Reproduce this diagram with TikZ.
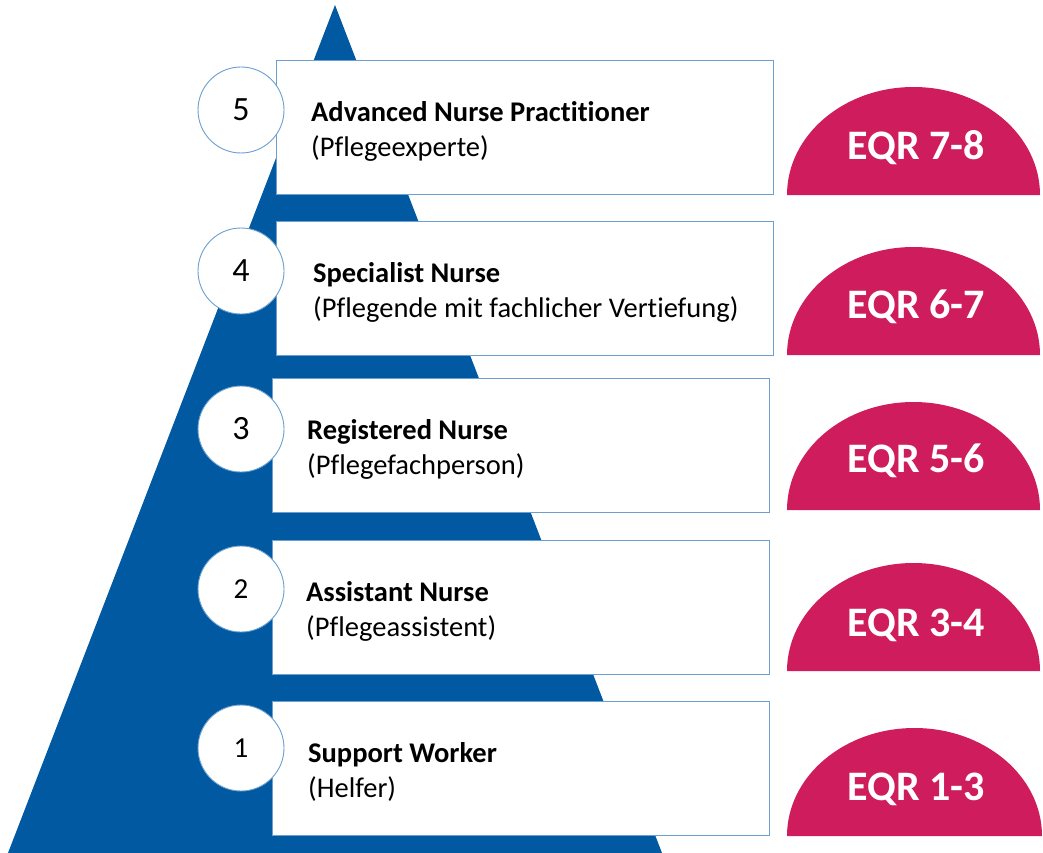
\documentclass[tikz,border=0pt]{standalone}
\usepackage{fontspec}
\setmainfont[Ligatures={NoCommon}]{Carlito}
\definecolor{pyblue}{HTML}{0059A1}
\definecolor{eqrmag}{HTML}{CF1C5C}
\definecolor{edgeblue}{HTML}{6A9FD0}
\newcommand{\bignum}{\fontsize{34}{36}\selectfont}
\newcommand{\smallnum}{\fontsize{29}{31}\selectfont}
\begin{document}
\begin{tikzpicture}[x=1pt,y=-1pt,
  levelbox/.style={draw=edgeblue, line width=0.9pt, fill=white, minimum width=497pt, minimum height=134pt, anchor=north west, inner sep=0pt},
  numcircle/.style={circle, draw=edgeblue, line width=0.9pt, fill=white, minimum size=86pt, inner sep=0pt},
  leveltext/.style={anchor=west, align=left, font=\fontsize{28.5}{35}\selectfont, inner sep=0pt},
  eqrtext/.style={text=white, font=\fontsize{42}{46}\selectfont\bfseries, inner sep=0pt},
  halfdisk/.style={fill=eqrmag}
]
\useasboundingbox (0,0) rectangle (1043,853);
\fill[pyblue] (335,5) -- (662,853) -- (8,853) -- cycle;

% boxes
\node[levelbox] (b5) at (276,60) {};
\node[levelbox] (b4) at (276,221) {};
\node[levelbox] (b3) at (272,378) {};
\node[levelbox] (b2) at (272,540) {};
\node[levelbox] (b1) at (272,701) {};

% circles
\node[numcircle] (c5) at (241,110) {\bignum 5};
\node[numcircle] (c4) at (241,271) {\bignum 4};
\node[numcircle] (c3) at (241,429) {\bignum 3};
\node[numcircle] (c2) at (241,589) {\smallnum 2};
\node[numcircle] (c1) at (241,748) {\smallnum 1};

% texts
\node[leveltext] (t5) at (311,131) {\textbf{Advanced Nurse Practitioner}\\(Pflegeexperte)};
\node[leveltext] (t4) at (313,292) {\textbf{Specialist Nurse}\\(Pflegende mit fachlicher Vertiefung)};
\node[leveltext] (t3) at (307,449) {\textbf{Registered Nurse}\\(Pflegefachperson)};
\node[leveltext] (t2) at (306,611) {\textbf{Assistant Nurse}\\(Pflegeassistent)};
\node[leveltext] (t1) at (308,772) {\textbf{Support Worker}\\(Helfer)};

% half disks
\fill[halfdisk] (787,195) arc[start angle=180, end angle=0, x radius=126.5pt, y radius=108pt] -- cycle;
\fill[halfdisk] (787,355) arc[start angle=180, end angle=0, x radius=126.5pt, y radius=108pt] -- cycle;
\fill[halfdisk] (787,510) arc[start angle=180, end angle=0, x radius=126.5pt, y radius=108pt] -- cycle;
\fill[halfdisk] (787,671) arc[start angle=180, end angle=0, x radius=126.5pt, y radius=108pt] -- cycle;
\fill[halfdisk] (787,836) arc[start angle=180, end angle=0, x radius=127.5pt, y radius=108pt] -- cycle;

\node[eqrtext] (e5) at (916,148) {EQR 7-8};
\node[eqrtext] (e4) at (916,307) {EQR 6-7};
\node[eqrtext] (e3) at (916,461) {EQR 5-6};
\node[eqrtext] (e2) at (916,625) {EQR 3-4};
\node[eqrtext] (e1) at (916,789) {EQR 1-3};
\end{tikzpicture}
\end{document}
